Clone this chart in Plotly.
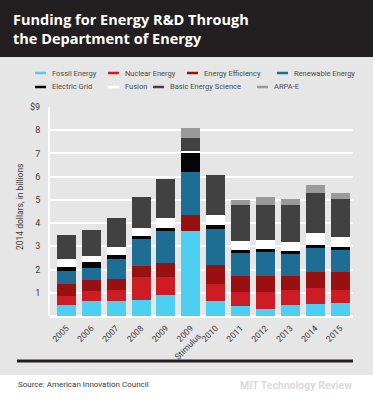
import plotly.graph_objects as go

# ---------------- data ----------------
categories = ["2005", "2006", "2007", "2008", "2009", "2009 Stimulus",
              "2010", "2011", "2012", "2013", "2014", "2015"]
tick_labels = ["2005", "2006", "2007", "2008", "2009", "2009<br>Stimulus",
               "2010", "2011", "2012", "2013", "2014", "2015"]

fossil_energy     = [0.46, 0.63, 0.63, 0.71, 0.90, 3.64, 0.66, 0.43, 0.31, 0.47, 0.51, 0.54]
nuclear_energy    = [0.41, 0.45, 0.51, 0.97, 0.76, 0.00, 0.71, 0.60, 0.72, 0.64, 0.69, 0.60]
energy_efficiency = [0.49, 0.46, 0.46, 0.49, 0.64, 0.73, 0.81, 0.71, 0.71, 0.63, 0.71, 0.74]
renewable_energy  = [0.59, 0.51, 0.87, 1.16, 1.35, 1.84, 1.55, 0.97, 1.03, 0.94, 1.00, 0.95]
electric_grid     = [0.18, 0.26, 0.14, 0.13, 0.15, 0.79, 0.20, 0.15, 0.11, 0.12, 0.14, 0.14]
fusion            = [0.31, 0.29, 0.37, 0.31, 0.43, 0.09, 0.44, 0.39, 0.40, 0.40, 0.52, 0.43]
basic_science     = [1.03, 1.09, 1.22, 1.37, 1.69, 0.59, 1.70, 1.55, 1.52, 1.57, 1.74, 1.62]
arpa_e            = [0.00, 0.00, 0.00, 0.00, 0.00, 0.42, 0.00, 0.20, 0.34, 0.28, 0.31, 0.26]

series_names = ["Fossil Energy", "Nuclear Energy", "Energy Efficiency", "Renewable Energy",
                "Electric Grid", "Fusion", "Basic Energy Science", "ARPA-E"]
series_values = [fossil_energy, nuclear_energy, energy_efficiency, renewable_energy,
                 electric_grid, fusion, basic_science, arpa_e]

y_tick_values = [1, 2, 3, 4, 5, 6, 7, 8, 9]
y_tick_labels = ["1", "2", "3", "4", "5", "6", "7", "8", "$9"]

title_text = "Funding for Energy R&amp;D Through<br>the Department of Energy"

# ---------------- style ----------------
colors = ["#4ccff0", "#cc1d26", "#981110", "#1e6d95",
          "#050505", "#ffffff", "#414141", "#9a9a9a"]
DARK = "#231f20"
GRAY_BG = "#e6e6e6"
TEXT = "#3a3a3a"
FONT = "Roboto, 'Liberation Sans', sans-serif"
TITLE_FONT = "'Open Sans', Roboto, sans-serif"

W, H = 373, 408
L, R, T, B = 50, 353, 107, 316
PW, PH = R - L, B - T


def px(x):
    return (x - L) / PW


def py(y):
    return (B - y) / PH


fig = go.Figure()
for name, vals, col in zip(series_names, series_values, colors):
    fig.add_trace(go.Bar(
        x=categories, y=vals, name=name,
        marker=dict(color=col, line=dict(width=0)),
        width=0.76, showlegend=False,
        hovertemplate=name + ": %{y:.2f}<extra></extra>",
    ))

shapes = [
    dict(type="rect", xref="paper", yref="paper", x0=px(-5), x1=px(W + 5), y0=py(57), y1=py(-5),
         fillcolor=DARK, line=dict(width=0), layer="below"),
    dict(type="rect", xref="paper", yref="paper", x0=px(-5), x1=px(W + 5), y0=py(H + 5), y1=py(375),
         fillcolor="#ffffff", line=dict(width=0), layer="below"),
    dict(type="line", xref="paper", yref="paper", x0=px(17), x1=px(353), y0=py(361), y1=py(361),
         line=dict(color=DARK, width=3)),
]

annotations = [
    dict(text="<b>" + title_text + "</b>",
         xref="paper", yref="paper", x=px(11), y=py(29), xanchor="left", yanchor="middle",
         align="left", showarrow=False,
         font=dict(family=TITLE_FONT, size=14.5, color="#ffffff")),
    dict(text="2014 dollars, in billions", textangle=-90,
         xref="paper", yref="paper", x=px(20), y=py(207), xanchor="center", yanchor="middle",
         showarrow=False, font=dict(family=FONT, size=8.5, color=TEXT)),
    dict(text="Source: American Innovation Council",
         xref="paper", yref="paper", x=px(16), y=py(384), xanchor="left", yanchor="middle",
         showarrow=False, font=dict(family=FONT, size=8, color=TEXT)),
    dict(text="<b>MIT Technology Review</b>",
         xref="paper", yref="paper", x=px(354), y=py(385), xanchor="right", yanchor="middle",
         showarrow=False, font=dict(family=FONT, size=10.5, color="#dadada")),
]

legend_pos = [(35, 73), (108, 73), (187, 73), (277, 73),
              (35, 87), (108, 87), (153, 87), (257, 87)]
for name, col, (lx, ly) in zip(series_names, colors, legend_pos):
    shapes.append(dict(type="line", xref="paper", yref="paper",
                       x0=px(lx), x1=px(lx + 11), y0=py(ly), y1=py(ly),
                       line=dict(color=col, width=2.5)))
    annotations.append(dict(text=name, xref="paper", yref="paper",
                            x=px(lx + 15), y=py(ly), xanchor="left", yanchor="middle",
                            showarrow=False,
                            font=dict(family=FONT, size=7.5, color="#4a4a4a")))

fig.update_layout(
    width=W, height=H,
    margin=dict(l=L, r=W - R, t=T, b=H - B, pad=0),
    paper_bgcolor=GRAY_BG, plot_bgcolor="rgba(0,0,0,0)",
    barmode="stack", bargap=0.24,
    shapes=shapes, annotations=annotations,
    font=dict(family=FONT, color=TEXT),
    xaxis=dict(
        type="category", range=[-0.66, 11.52],
        tickmode="array", tickvals=categories, ticktext=tick_labels,
        tickangle=-45, tickfont=dict(family=FONT, size=8.5, color=TEXT),
        ticks="outside", ticklen=3, tickcolor="rgba(0,0,0,0)",
        showgrid=False, showline=False, zeroline=False, fixedrange=True,
    ),
    yaxis=dict(
        range=[0, 9], tickmode="array", tickvals=y_tick_values, ticktext=y_tick_labels,
        tickfont=dict(family=FONT, size=9, color=TEXT),
        ticks="outside", ticklen=6, tickcolor="rgba(0,0,0,0)",
        showgrid=True, gridcolor="#ffffff", gridwidth=2,
        zeroline=True, zerolinecolor="#ffffff", zerolinewidth=2.5,
        showline=True, linecolor="#ffffff", linewidth=2, fixedrange=True,
    ),
)

fig.write_html("out.html", config={"displayModeBar": False},
               post_script="document.body.style.margin='0px';document.body.style.padding='0px';")
